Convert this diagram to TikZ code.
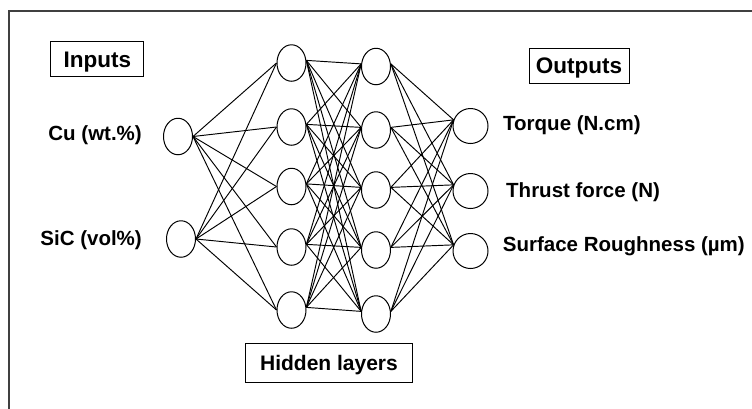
\documentclass[tikz,border=0pt]{standalone}
\usepackage{fontspec}
\setmainfont{Liberation Sans}
\usetikzlibrary{shapes.geometric}
\begin{document}
\begin{tikzpicture}[x=1pt,y=-1pt,
  neuron/.style={draw, ellipse, line width=1pt, minimum width=29pt, minimum height=36.5pt, inner sep=0pt},
  outneuron/.style={neuron, minimum width=35pt, minimum height=35pt},
  link/.style={line width=0.95pt},
  lbl/.style={font=\bfseries\fontsize{20.5}{24}\selectfont, inner sep=0pt},
  titlebox/.style={draw, line width=1pt, inner sep=0pt, text depth=0pt}]
\useasboundingbox (0,0) rectangle (752,408);
\fill[white] (0,0) rectangle (752,408);
\draw[line width=1.3pt, color=black!75] (9,409) -- (9,11) -- (753,11);
% neurons
\node[neuron] (in1) at (178,136.5) {};
\node[neuron] (in2) at (181,239) {};
\foreach \i/\y in {1/63,2/127,3/186.5,4/247,5/310}
  \node[neuron] (h\i) at (291.5,\y) {};
\foreach \i/\y in {1/66.5,2/130,3/190,4/250,5/314}
  \node[neuron] (g\i) at (376,\y) {};
\foreach \k/\y in {1/126,2/191,3/251}
  \node[outneuron] (o\k) at (470.5,\y) {};
% connections
\foreach \i in {1,2}
  \foreach \j in {1,...,5}
    \draw[link] (in\i.east) -- (h\j.west);
\foreach \i in {1,...,5}
  \foreach \j in {1,...,5}
    \draw[link] (h\i.10) -- (g\j.170);
\foreach \i in {1,...,5}
  \foreach \k in {1,2,3}
    \draw[link] (g\i.10) -- (o\k.160);
% labels
\node[lbl, anchor=base east] (cu) at (142,140.5) {Cu (wt.\%)};
\node[lbl, anchor=base east] (sic) at (142,245.5) {SiC (vol\%)};
\node[lbl, anchor=base west] (tq) at (503,130) {Torque (N.cm)};
\node[lbl, anchor=base west] (th) at (506,197) {Thrust force (N)};
\node[lbl, anchor=base west] (sr) at (502.7,251.7) {Surface Roughness (µm)};
% boxes
\node[titlebox, minimum width=93.3pt, minimum height=35pt, text height=16pt,
  font=\bfseries\fontsize{22.5}{26}\selectfont] (inputs) at (97.3,59.2) {Inputs};
\node[titlebox, minimum width=100pt, minimum height=35pt, text height=16pt,
  font=\bfseries\fontsize{22.5}{26}\selectfont] (outputs) at (579,65.5) {Outputs};
\node[titlebox, minimum width=166.6pt, minimum height=38.5pt, text height=15pt,
  font=\bfseries\fontsize{21}{25}\selectfont] (hidden) at (329,363.2) {Hidden layers};
\end{tikzpicture}
\end{document}
